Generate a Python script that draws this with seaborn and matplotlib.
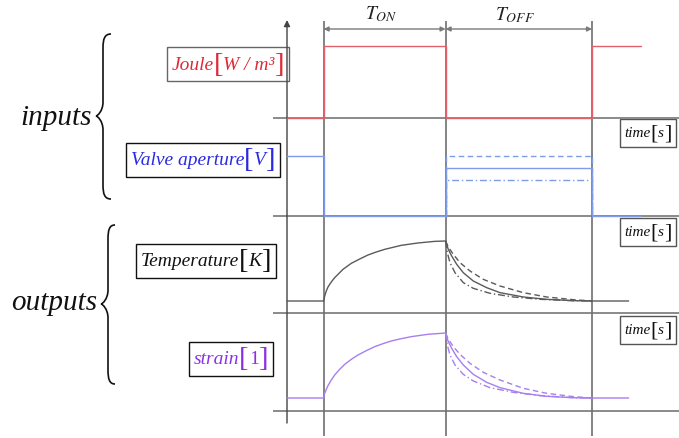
import numpy as np
import pandas as pd
import matplotlib
matplotlib.use("Agg")
import matplotlib.pyplot as plt
from matplotlib.path import Path
from matplotlib.patches import PathPatch
from matplotlib.offsetbox import TextArea, HPacker, AnnotationBbox
import seaborn as sns

sns.set_theme(style="white")
plt.rcParams["font.family"] = ["Liberation Serif", "DejaVu Serif"]
plt.rcParams["mathtext.fontset"] = "stix"

# ---------------------------------------------------------------- data
# switching instants: heating on, heating off, heating on again
switch_times = [3, 13, 25]
period_labels = [r"$T_{ON}$", r"$T_{OFF}$"]

# Joule heating input (normalised)
joule_t = [0, 3, 3, 13, 13, 25, 25, 29]
joule_v = [0, 0, 1, 1, 0, 0, 1, 1]

# valve aperture input: before / during heating, then three OFF-phase openings
valve_t = [0, 3, 3, 13, 13, 25, 25, 29]
valve_nominal = [1, 1, 0, 0, 0.8, 0.8, 0, 0]
valve_off_t = [13, 13, 25, 25]
valve_wide = [0, 1.0, 1.0, 0]
valve_narrow = [0, 0.6, 0.6, 0]

# temperature response (normalised)
temp_rise_t = [0, 3, 3.09, 3.22, 3.36, 3.5, 3.69, 3.91, 4.18, 4.59, 5.27, 5.96,
               6.64, 7.32, 8.01, 9.37, 10.74, 12.11, 13]
temp_rise_v = [0, 0, 0.083, 0.167, 0.233, 0.278, 0.333, 0.389, 0.444, 0.528, 0.628, 0.7,
               0.767, 0.817, 0.861, 0.928, 0.967, 0.994, 1.0]
temp_fall_t = [13, 13.22, 13.5, 13.91, 14.45, 15.27, 16.37, 17.46, 19.37, 21.28, 23.47, 25, 28]
temp_fall_nominal = [1, 0.861, 0.75, 0.611, 0.472, 0.333, 0.222, 0.139, 0.067, 0.028, 0.006, 0, 0]
temp_fall_slow_t = [13, 13.22, 13.63, 14.18, 15.0, 16.09, 17.46, 19.37, 21.28, 23.47, 25]
temp_fall_slow = [1, 0.9, 0.778, 0.639, 0.5, 0.361, 0.25, 0.139, 0.067, 0.022, 0]
temp_fall_fast_t = [13, 13.14, 13.36, 13.77, 14.45, 15.27, 16.64, 18.55, 20.74, 23.47, 25]
temp_fall_fast = [1, 0.806, 0.639, 0.472, 0.306, 0.211, 0.128, 0.067, 0.028, 0.005, 0]

# strain response (normalised)
strain_rise_t = [0, 3, 3.09, 3.22, 3.36, 3.63, 3.91, 4.32, 4.73, 5.27, 5.82, 6.5,
                 7.19, 7.87, 8.55, 9.37, 10.19, 11.56, 13]
strain_rise_v = [0, 0, 0.072, 0.133, 0.19, 0.277, 0.354, 0.441, 0.518, 0.595, 0.662, 0.728,
                 0.79, 0.836, 0.877, 0.913, 0.944, 0.98, 1.0]
strain_fall_t = [13, 13.22, 13.5, 13.91, 14.45, 15.27, 16.37, 17.46, 19.37, 21.28, 23.47, 25, 28]
strain_fall_nominal = [1, 0.867, 0.764, 0.636, 0.508, 0.364, 0.241, 0.159, 0.072, 0.026, 0.004, 0, 0]
strain_fall_slow_t = [13, 13.22, 13.63, 14.18, 15.0, 16.09, 17.46, 19.37, 21.28, 23.47, 25]
strain_fall_slow = [1, 0.908, 0.79, 0.672, 0.533, 0.395, 0.277, 0.149, 0.072, 0.021, 0]
strain_fall_fast_t = [13, 13.14, 13.36, 13.77, 14.45, 15.27, 16.64, 18.55, 20.74, 23.47, 25]
strain_fall_fast = [1, 0.815, 0.662, 0.508, 0.364, 0.262, 0.159, 0.087, 0.036, 0.005, 0]


def frame(*pieces):
    parts = [pd.DataFrame({"t": t, "v": v, "case": c}) for t, v, c in pieces]
    return pd.concat(parts, ignore_index=True)


joule_df = frame((joule_t, joule_v, "nominal"))
valve_df = frame((valve_t, valve_nominal, "nominal"),
                 (valve_off_t, valve_wide, "slow"),
                 (valve_off_t, valve_narrow, "fast"))
temp_df = frame((temp_rise_t + temp_fall_t[1:], temp_rise_v + temp_fall_nominal[1:], "nominal"),
                (temp_fall_slow_t, temp_fall_slow, "slow"),
                (temp_fall_fast_t, temp_fall_fast, "fast"))
strain_df = frame((strain_rise_t + strain_fall_t[1:], strain_rise_v + strain_fall_nominal[1:], "nominal"),
                  (strain_fall_slow_t, strain_fall_slow, "slow"),
                  (strain_fall_fast_t, strain_fall_fast, "fast"))

# ---------------------------------------------------------------- layout
W, H = 679, 439
PX_PER_T = 12.2
T_AXIS_X = 287
XLIM = (-T_AXIS_X / PX_PER_T, (W - T_AXIS_X) / PX_PER_T)
dash_map = {"nominal": "", "slow": (4, 2.5), "fast": (5, 2, 1, 2)}

fig = plt.figure(figsize=(W / 100, H / 100), dpi=100)
fig.patch.set_facecolor("white")

# pixel-space canvas for labels and braces
px = fig.add_axes([0, 0, 1, 1])
px.set_xlim(0, W)
px.set_ylim(H, 0)
px.axis("off")

# time-space canvas for the axis, period markers and baselines
ov = fig.add_axes([0, 0, 1, 1])
ov.set_xlim(*XLIM)
ov.set_ylim(H, 0)
ov.axis("off")

grid_c = "#8a8a8a"
ov.hlines([119, 217, 314, 412], -1.15, XLIM[1], color=grid_c, lw=1.4)
ov.vlines(switch_times, 22, 437, color="#6e6e6e", lw=1.2)
ov.annotate("", xy=(0, 21), xytext=(0, 424),
            arrowprops=dict(arrowstyle="-|>", color="#444444", lw=1.0,
                            mutation_scale=9, shrinkA=0, shrinkB=0))
for a, b, lab, ly in zip(switch_times[:-1], switch_times[1:], period_labels, [14, 15]):
    ov.annotate("", xy=(a, 30), xytext=(b, 30),
                arrowprops=dict(arrowstyle="<|-|>", color="#7a7a7a", lw=1.0,
                                mutation_scale=7, shrinkA=0, shrinkB=0))
    ov.text((a + b) / 2 - 0.3, ly, lab, ha="center", va="center", fontsize=14, color="#222222")


def track(df, y_zero, y_one, color):
    ax = fig.add_axes([0, 1 - y_zero / H, 1, (y_zero - y_one) / H])
    ax.set_xlim(*XLIM)
    ax.set_ylim(0, 1)
    sns.lineplot(data=df, x="t", y="v", style="case", dashes=dash_map, color=color,
                 lw=1.0, sort=False, estimator=None, legend=False, ax=ax)
    for ln in ax.lines:
        ln.set_clip_on(False)
    ax.axis("off")
    return ax


track(joule_df, 119, 47, "#e0606c")
track(valve_df, 217, 157, "#7f9ce8")
track(temp_df, 302, 242, "#5a5a5a")
track(strain_df, 399, 334, "#a77ef0")


def boxed_label(name, unit, x, y, color, edge, size, unit_italic=True):
    base = dict(color=color, fontsize=size, family="Liberation Serif")
    big = dict(color=color, fontsize=size * 1.45, family="Liberation Serif")
    parts = [TextArea(name, textprops=dict(base, style="italic")),
             TextArea("[", textprops=big),
             TextArea(unit, textprops=dict(base, style="italic" if unit_italic else "normal")),
             TextArea("]", textprops=big)]
    pack = HPacker(children=parts, align="center", pad=0, sep=0)
    ab = AnnotationBbox(pack, (x, y), xycoords="data", frameon=True, pad=0.12,
                        bboxprops=dict(boxstyle="square", ec=edge, fc="white", lw=1.0))
    px.add_artist(ab)


# signal names
boxed_label("Joule", "W / m³", 228, 65, "#e02a36", "#666666", 14)
boxed_label("Valve aperture", "V", 203, 161, "#2a2ae0", "#111111", 14)
boxed_label("Temperature", "K", 206, 262, "#111111", "#111111", 14)
boxed_label("strain", "1", 231, 360, "#8a30e6", "#111111", 14, unit_italic=False)
for y in [134, 233, 331]:
    boxed_label("time", "s", 648, y, "#111111", "#555555", 11)

# group captions with curly braces
px.text(56, 118, "inputs", ha="center", va="center", fontsize=21, style="italic", color="#111111")
px.text(54, 303, "outputs", ha="center", va="center", fontsize=21, style="italic", color="#111111")


def brace(x_hook, x_stroke, x_tip, y_top, y_mid, y_bot, c=14):
    d = x_hook - x_stroke
    e = x_stroke - x_tip
    verts = [
        (x_hook, y_top),
        (x_stroke + 0.2 * d, y_top), (x_stroke, y_top + 0.35 * c), (x_stroke, y_top + c),
        (x_stroke, y_mid - c),
        (x_stroke, y_mid - 0.35 * c), (x_tip + 0.2 * e, y_mid), (x_tip, y_mid),
        (x_tip + 0.2 * e, y_mid), (x_stroke, y_mid + 0.35 * c), (x_stroke, y_mid + c),
        (x_stroke, y_bot - c),
        (x_stroke, y_bot - 0.35 * c), (x_stroke + 0.2 * d, y_bot), (x_hook, y_bot),
    ]
    codes = ([Path.MOVETO] + [Path.CURVE4] * 3 + [Path.LINETO] + [Path.CURVE4] * 6
             + [Path.LINETO] + [Path.CURVE4] * 3)
    px.add_patch(PathPatch(Path(verts, codes), fc="none", ec="#111111", lw=1.2))


brace(111, 103, 96, 35, 117, 200)
brace(115, 108, 101, 226, 305, 385)

fig.savefig("out.png", dpi=100, facecolor="white")
